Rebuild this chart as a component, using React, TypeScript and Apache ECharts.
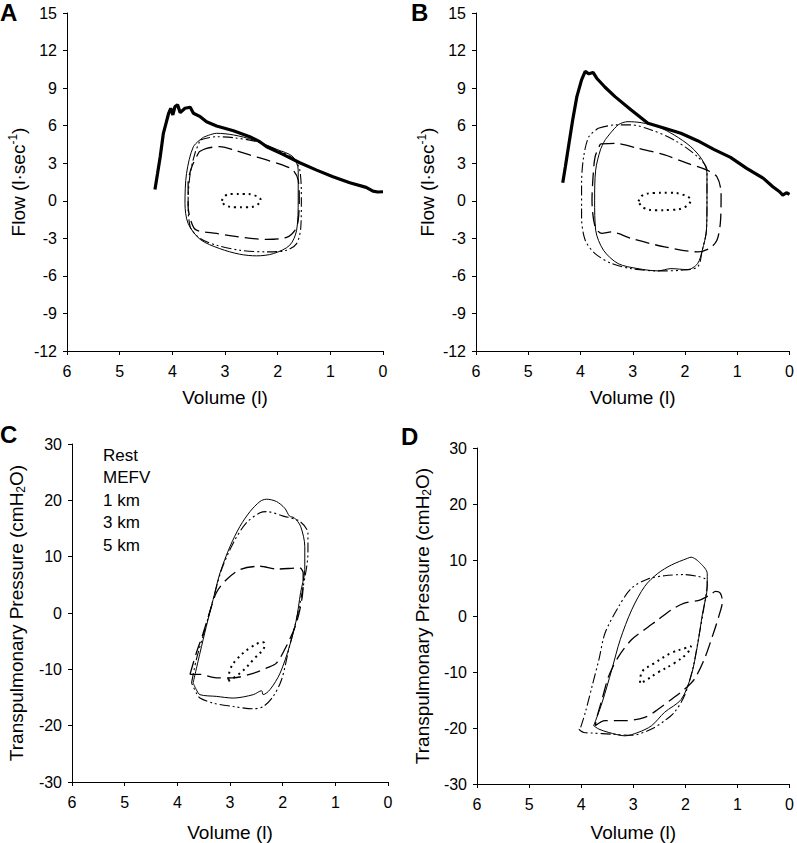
import React, { useEffect, useRef } from "react";
import * as echarts from "echarts";

// ---- Data (volume in l, flow in l/s, pressure in cmH2O) ----
const SERIES_NAMES = ["Rest", "MEFV", "1 km", "3 km", "5 km"];

// Panel A (flow-volume)
const aMefv = [[4.33,0.91],[4.28,2.19],[4.23,3.52],[4.17,5.39],[4.12,6.19],[4.07,6.99],[4.03,7.39],[3.99,6.86],[3.95,7.52],[3.9,7.66],[3.85,7.04],[3.76,7.39],[3.66,7.47],[3.6,6.99],[3.47,6.72],[3.35,6.32],[3.16,5.98],[2.84,5.6],[2.53,5.12],[2.34,4.72],[2.21,4.32],[1.9,3.71],[1.58,3.04],[1.26,2.45],[0.95,1.92],[0.63,1.44],[0.32,1.07],[0.19,0.77],[0.1,0.7],[0,0.72]];
const aRest = [[3.06,0.0],[3.0,0.4],[2.85,0.55],[2.65,0.55],[2.45,0.45],[2.32,0.05],[2.42,-0.4],[2.6,-0.52],[2.8,-0.52],[3.0,-0.35],[3.06,0.0]];
const a1km = [[3.49,3.92],[3.35,4.19],[3.1,4.32],[2.84,4.06],[2.53,3.66],[2.21,3.26],[1.9,2.85],[1.71,2.45],[1.61,1.65],[1.59,0.05],[1.61,-1.55],[1.67,-2.35],[1.83,-2.93],[2.21,-3.09],[2.84,-2.83],[3.16,-2.61],[3.54,-2.35],[3.63,-1.81],[3.7,-0.48],[3.7,1.39],[3.63,2.72],[3.49,3.92]];
const a3km = [[3.47,4.86],[3.16,5.12],[2.84,5.04],[2.4,4.72],[2.02,4.06],[1.71,3.39],[1.58,2.45],[1.55,0.05],[1.56,-2.08],[1.64,-3.42],[1.83,-3.95],[2.21,-4.08],[2.72,-3.95],[3.16,-3.55],[3.47,-3.01],[3.66,-2.08],[3.7,0.05],[3.66,2.19],[3.57,3.79],[3.47,4.86]];
const a5km = [[3.41,5.07],[3.16,5.39],[2.84,5.26],[2.46,4.86],[2.02,4.11],[1.71,3.52],[1.61,2.45],[1.61,0.05],[1.64,-2.35],[1.77,-3.55],[2.08,-4.22],[2.4,-4.4],[2.72,-4.27],[3.1,-3.82],[3.47,-3.09],[3.7,-1.81],[3.76,-0.21],[3.73,2.19],[3.6,4.32],[3.41,5.07]];

// Panel B (flow-volume)
const bMefv = [[4.34,1.44],[4.29,2.72],[4.22,4.59],[4.15,6.46],[4.07,8.32],[3.98,9.66],[3.91,10.33],[3.84,10.14],[3.76,10.25],[3.69,9.79],[3.53,9.07],[3.34,8.32],[3.03,7.26],[2.71,6.19],[2.39,5.79],[2.08,5.39],[1.76,4.8],[1.45,4.11],[1.13,3.47],[0.82,2.59],[0.5,1.79],[0.32,1.12],[0.19,0.72],[0.13,0.45],[0.06,0.64],[0,0.51]];
const bRest = [[2.89,-0.05],[2.82,0.42],[2.6,0.62],[2.3,0.64],[2.05,0.5],[1.89,0.05],[2.0,-0.5],[2.25,-0.73],[2.55,-0.75],[2.8,-0.55],[2.89,-0.05]];
const b1km = [[3.62,4.54],[3.34,4.59],[2.9,4.19],[2.39,3.66],[1.95,2.99],[1.58,2.45],[1.39,1.92],[1.31,0.59],[1.32,-1.55],[1.39,-3.15],[1.54,-3.82],[1.76,-4.08],[2.39,-3.68],[3.03,-3.01],[3.28,-2.61],[3.4,-2.48],[3.59,-2.61],[3.72,-2.08],[3.78,0.05],[3.76,1.92],[3.72,3.52],[3.62,4.54]];
const b3km = [[3.66,5.79],[3.34,6.06],[3.03,6.06],[2.65,5.66],[2.21,4.86],[1.76,3.52],[1.58,2.45],[1.58,0.05],[1.59,-2.35],[1.67,-3.95],[1.76,-5.28],[2.08,-5.55],[2.52,-5.6],[3.03,-5.42],[3.4,-5.02],[3.72,-4.22],[3.91,-3.15],[3.98,-1.28],[3.98,1.39],[3.94,3.52],[3.84,5.12],[3.66,5.79]];
const b5km = [[3.53,4.86],[3.28,6.06],[3.09,6.32],[2.84,6.24],[2.52,5.92],[2.21,5.26],[1.89,4.32],[1.67,3.26],[1.58,2.19],[1.58,0.05],[1.59,-2.35],[1.67,-3.95],[1.76,-5.02],[1.95,-5.5],[2.27,-5.42],[2.52,-5.6],[2.9,-5.42],[3.28,-5.02],[3.56,-3.95],[3.71,-2.35],[3.73,0.05],[3.71,2.45],[3.62,4.06],[3.53,4.86]];

// Panel C (pressure-volume)
const cRest = [[3.03,-12.1],[2.81,-10.7],[2.56,-8.3],[2.34,-5.6],[2.37,-5.2],[2.62,-6.2],[2.88,-8.3],[3.0,-10.1],[3.03,-12.1]];
const c1km = [[3.76,-10.9],[3.64,-7.1],[3.51,-3.6],[3.38,0.3],[3.26,3.6],[3.07,5.9],[2.81,7.7],[2.43,8.3],[2.12,7.8],[1.68,8.0],[1.61,7.1],[1.62,3.6],[1.74,-1.8],[1.93,-5.9],[2.12,-8.9],[2.31,-9.8],[2.56,-10.7],[2.94,-11.5],[3.26,-11.5],[3.57,-10.9],[3.76,-10.9]];
const c3km = [[3.73,-12.4],[3.64,-8.3],[3.48,-3.0],[3.32,2.4],[3.16,7.7],[2.94,12.4],[2.69,16.0],[2.43,17.8],[2.31,18.0],[1.99,17.2],[1.68,16.3],[1.52,14.2],[1.52,10.7],[1.61,4.7],[1.74,-1.2],[1.87,-5.9],[2.02,-11.8],[2.18,-14.8],[2.37,-16.6],[2.56,-17.0],[2.94,-16.6],[3.32,-16.0],[3.57,-15.1],[3.64,-14.2],[3.73,-12.4]];
const c5km = [[3.7,-12.4],[3.57,-7.1],[3.45,-2.4],[3.32,2.4],[3.19,7.1],[3.0,11.8],[2.81,15.4],[2.62,18.0],[2.43,19.8],[2.31,20.2],[2.12,19.8],[1.96,18.6],[1.87,17.2],[1.78,16.9],[1.66,15.4],[1.58,11.8],[1.58,7.7],[1.66,3.6],[1.74,-1.2],[1.87,-5.9],[2.05,-10.7],[2.24,-13.6],[2.37,-14.5],[2.4,-13.8],[2.56,-14.5],[2.94,-15.1],[3.26,-14.8],[3.57,-14.5],[3.64,-13.6],[3.7,-12.4]];

// Panel D (pressure-volume)
const dRest = [[2.87,-11.9],[2.84,-10.1],[2.59,-8.4],[2.27,-6.6],[1.99,-5.7],[1.89,-5.4],[1.96,-6.6],[2.21,-8.4],[2.53,-10.1],[2.78,-11.6],[2.87,-11.9]];
const d1km = [[3.73,-19.6],[3.54,-18.7],[3.16,-18.7],[2.78,-18.1],[2.53,-16.7],[2.27,-14.9],[2.02,-13.1],[1.83,-11.3],[1.64,-7.8],[1.48,-3.6],[1.36,-0.1],[1.29,2.6],[1.33,4.1],[1.42,4.4],[1.52,3.8],[1.71,2.9],[2.02,2.3],[2.27,1.1],[2.53,-0.7],[2.78,-2.4],[3.03,-4.2],[3.28,-7.2],[3.47,-10.7],[3.6,-14.9],[3.69,-17.8],[3.73,-19.6]];
const d3km = [[4.01,-19.9],[3.92,-17.2],[3.79,-12.5],[3.66,-7.8],[3.54,-3.0],[3.28,1.7],[3.03,5.0],[2.72,6.6],[2.4,7.2],[2.02,7.4],[1.77,7.1],[1.61,6.6],[1.58,5.9],[1.64,1.7],[1.74,-3.6],[1.86,-9.5],[2.02,-14.3],[2.21,-17.2],[2.4,-18.7],[2.65,-20.2],[3.03,-21.3],[3.41,-21.1],[3.79,-20.9],[3.95,-20.8],[4.04,-20.2],[4.01,-19.9]];
const d5km = [[3.76,-19.6],[3.6,-15.5],[3.41,-9.5],[3.25,-4.2],[3.03,1.1],[2.78,5.3],[2.53,7.6],[2.27,9.1],[1.96,10.3],[1.89,10.5],[1.71,9.4],[1.58,7.6],[1.58,5.3],[1.67,0.5],[1.77,-5.4],[1.89,-10.7],[2.08,-14.9],[2.4,-17.2],[2.65,-19.6],[2.91,-20.8],[3.16,-21.4],[3.47,-20.8],[3.66,-20.2],[3.76,-19.6]];

const PANEL_LABELS = ["A", "B", "C", "D"];
const FLOW_RANGE = [-12, 15, 3];
const PRESSURE_RANGE = [-30, 30, 10];
const VOLUME_RANGE = [0, 6, 1];

const FONT = "'Liberation Sans', Arial, Helvetica, sans-serif";

const STYLES: Record<string, any> = {
  Rest: { width: 2, type: [2, 4], smooth: 0.4 },
  MEFV: { width: 3.2, type: "solid", smooth: 0 },
  "1 km": { width: 1.3, type: [14, 6], smooth: 0.3 },
  "3 km": { width: 1.1, type: [10, 3, 2, 3, 2, 3], smooth: 0.3 },
  "5 km": { width: 1, type: "solid", smooth: 0.3 },
};

function mk(name: string, data: number[][], idx: number) {
  const s = STYLES[name];
  return {
    type: "line",
    name,
    data,
    xAxisIndex: idx,
    yAxisIndex: idx,
    showSymbol: false,
    symbol: "none",
    smooth: s.smooth,
    lineStyle: { color: "#000", width: s.width, type: s.type },
    itemStyle: { color: "#000" },
    silent: true,
    z: name === "MEFV" ? 3 : 2,
  };
}

export default function App() {
  const ref = useRef<HTMLDivElement>(null);
  useEffect(() => {
    if (!ref.current) return;
    const chart = echarts.init(ref.current, undefined, { renderer: "svg" });
    const grids = [
      { left: 67, top: 13, width: 316, height: 338 },
      { left: 476, top: 13, width: 317, height: 338 },
      { left: 72, top: 444, width: 316, height: 338 },
      { left: 477, top: 448, width: 316, height: 337 },
    ];
    const xGaps = [37, 37, 41, 39];
    const yGaps = [38, 38, 45, 44];
    const axisCommon = {
      axisLine: { show: true, onZero: false, lineStyle: { color: "#000", width: 1 } },
      axisTick: { show: true, inside: false, length: 4, lineStyle: { color: "#000" } },
      splitLine: { show: false },
      axisLabel: { color: "#000", fontSize: 16, fontFamily: FONT },
      nameTextStyle: { color: "#000", fontSize: 19, fontFamily: FONT },
    };
    const xAxes = grids.map((_, i) => ({
      ...axisCommon,
      type: "value",
      gridIndex: i,
      inverse: true,
      min: VOLUME_RANGE[0],
      max: VOLUME_RANGE[1],
      interval: VOLUME_RANGE[2],
      name: "Volume (l)",
      nameLocation: "middle",
      nameGap: xGaps[i],
      axisLabel: { ...axisCommon.axisLabel, margin: 12 },
    }));
    const yAxes = grids.map((_, i) => {
      const r = i < 2 ? FLOW_RANGE : PRESSURE_RANGE;
      return {
        ...axisCommon,
        type: "value",
        gridIndex: i,
        min: r[0],
        max: r[1],
        interval: r[2],
        name: i < 2 ? "Flow (l·sec{sup|-1})" : "Transpulmonary Pressure (cmH{sub|2}O)",
        nameLocation: "middle",
        nameGap: yGaps[i],
        axisLabel: { ...axisCommon.axisLabel, margin: 10 },
        nameTextStyle: {
          ...axisCommon.nameTextStyle,
          lineHeight: 22,
          rich: {
            sup: { fontSize: 12, fontFamily: FONT, color: "#000", verticalAlign: "top", lineHeight: 12 },
            sub: { fontSize: 12, fontFamily: FONT, color: "#000", verticalAlign: "bottom", lineHeight: 12 },
          },
        },
      };
    });

    const series = [
      mk("Rest", aRest, 0), mk("MEFV", aMefv, 0), mk("1 km", a1km, 0), mk("3 km", a3km, 0), mk("5 km", a5km, 0),
      mk("Rest", bRest, 1), mk("MEFV", bMefv, 1), mk("1 km", b1km, 1), mk("3 km", b3km, 1), mk("5 km", b5km, 1),
      mk("Rest", cRest, 2), mk("1 km", c1km, 2), mk("3 km", c3km, 2), mk("5 km", c5km, 2),
      mk("Rest", dRest, 3), mk("1 km", d1km, 3), mk("3 km", d3km, 3), mk("5 km", d5km, 3),
    ];

    const labelPos = [
      [0, 0],
      [411, 0],
      [0, 422],
      [401, 424],
    ];

    chart.setOption({
      animation: false,
      backgroundColor: "#fff",
      textStyle: { fontFamily: FONT },
      grid: grids,
      xAxis: xAxes,
      yAxis: yAxes,
      legend: {
        data: SERIES_NAMES,
        orient: "vertical",
        left: 93,
        top: 439,
        icon: "none",
        itemWidth: 0,
        itemHeight: 14,
        itemGap: 0,
        selectedMode: false,
        textStyle: { color: "#000", fontSize: 17, fontFamily: FONT, lineHeight: 22.5, padding: 0 },
      },
      graphic: PANEL_LABELS.map((t, i) => ({
        type: "text",
        left: labelPos[i][0],
        top: labelPos[i][1],
        style: { text: t, fontSize: 24, fontWeight: "bold", fontFamily: FONT, fill: "#000" },
      })),
      series,
    });
    return () => chart.dispose();
  }, []);
  return (
    <div
      ref={ref}
      style={{ position: "absolute", left: 0, top: 0, width: 797, height: 843, background: "#fff" }}
    />
  );
}
